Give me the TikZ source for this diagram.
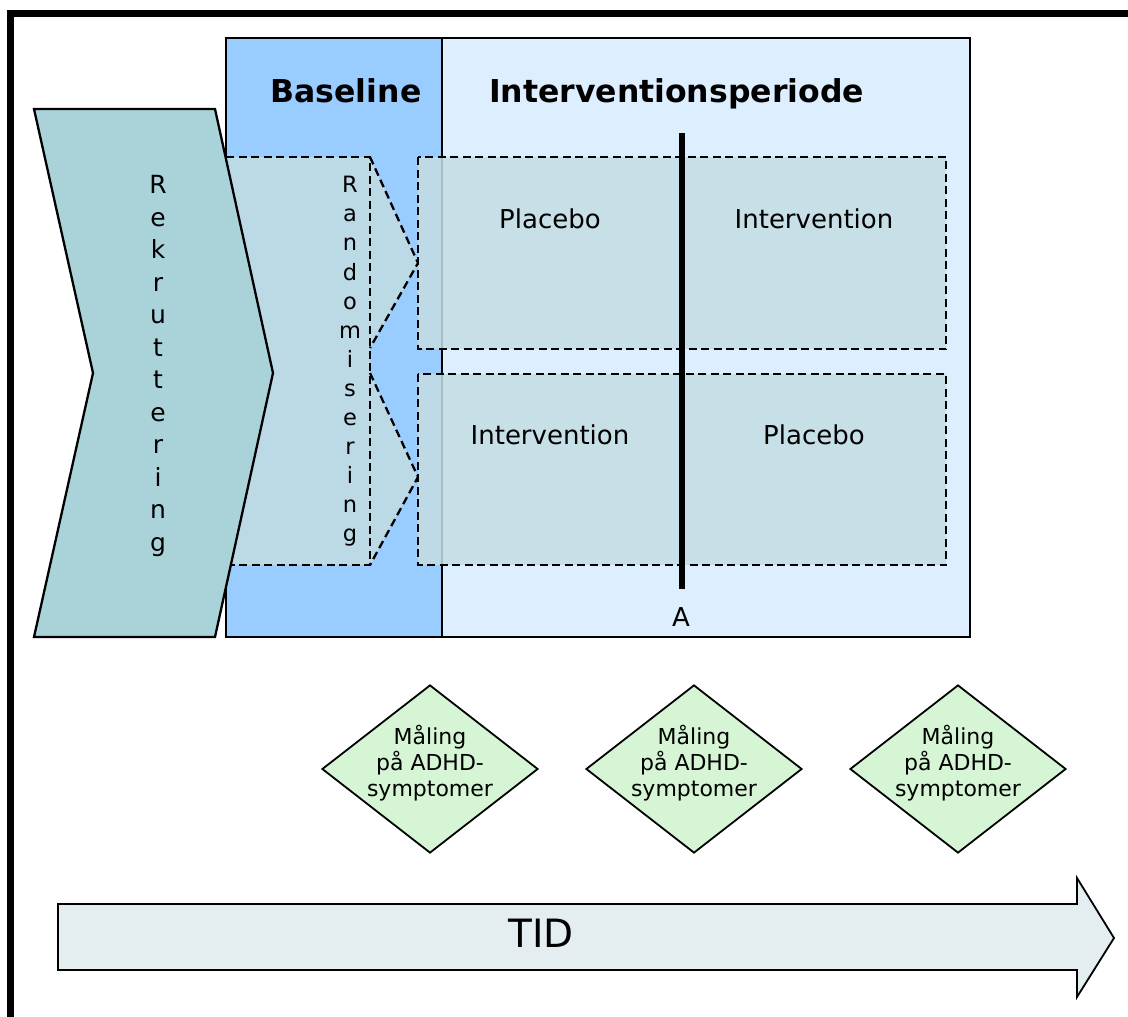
\documentclass[tikz,border=0pt]{standalone}
\usepackage{fontspec}
\setmainfont{DejaVu Sans}
\usetikzlibrary{shapes.geometric}
\definecolor{baseblue}{HTML}{99CCFF}
\definecolor{intblue}{HTML}{DDEEFF}
\definecolor{randfill}{HTML}{BCD9E6}
\definecolor{innerfill}{HTML}{C4DDE2}
\definecolor{chevfill}{HTML}{A9D3D9}
\definecolor{meafill}{HTML}{D5F5D5}
\definecolor{tidfill}{HTML}{E4EEF0}
\begin{document}
\begin{tikzpicture}[x=1pt,y=-1pt,
  frameline/.style={line width=7.5pt},
  boxline/.style={draw=black, line width=2pt},
  dashline/.style={draw=black, line width=2.3pt, dash pattern=on 8pt off 4.5pt},
  chevron/.style={draw=black, line width=2.3pt, fill=chevfill, line join=miter},
  meas/.style={diamond, draw=black, line width=1.8pt, fill=meafill, inner sep=0pt, minimum width=216pt, minimum height=168pt},
  meastext/.style={align=center, inner sep=0pt, font=\fontsize{22}{26}\selectfont},
  tidarrow/.style={draw=black, line width=1.8pt, fill=tidfill},
  head/.style={anchor=base, inner sep=0pt, font=\bfseries\fontsize{31.5}{36}\selectfont},
  lbl/.style={anchor=base, inner sep=0pt, font=\fontsize{26}{30}\selectfont},
  vert/.style={align=center, inner sep=0pt}
]
\useasboundingbox (0,0) rectangle (1128,1017);
\fill[white] (0,0) rectangle (1128,1017);
% outer frame
\draw[frameline] (10.5,1040) -- (10.5,13.5) -- (1150,13.5);
% period boxes
\draw[boxline, fill=intblue] (442,38) rectangle (970,637);
\draw[boxline, fill=baseblue] (226,38) rectangle (442,637);
% randomisering shape
\fill[randfill] (226,157) -- (370,157) -- (418,263) -- (370,348) -- (370,373) -- (418,477) -- (370,565) -- (226,565) -- cycle;
\draw[dashline] (226,157) -- (370,157) -- (370,565) -- (226,565);
\draw[dashline] (370,157) -- (418,263) -- (370,348);
\draw[dashline] (370,373) -- (418,477) -- (370,565);
% arms
\draw[dashline, fill=innerfill, fill opacity=0.85] (418,157) rectangle (946,349);
\draw[dashline, fill=innerfill, fill opacity=0.85] (418,374) rectangle (946,565);
% rekruttering chevron
\draw[chevron] (34,109) -- (215,109) -- (273,373) -- (215,637) -- (34,637) -- (93,373) -- cycle;
% crossover line
\coordinate (ltop) at (682,133);
\coordinate (lbot) at (682,589);
\draw[line width=6.5pt] (ltop) -- (lbot);
% texts
\node[head] (bl) at (346,102) {Baseline};
\node[head] (ip) at (676.5,102) {Interventionsperiode};
\node[vert, font=\fontsize{25}{32.5}\selectfont] (rek) at (158,366) {R\\e\\k\\r\\u\\t\\t\\e\\r\\i\\n\\g};
\node[vert, font=\fontsize{22.5}{29.1}\selectfont] (rand) at (350,361.5) {R\\a\\n\\d\\o\\m\\i\\s\\e\\r\\i\\n\\g};
\node[lbl] (p1) at (550,228) {Placebo};
\node[lbl] (i1) at (814,228) {Intervention};
\node[lbl] (i2) at (550,444) {Intervention};
\node[lbl] (p2) at (814,444) {Placebo};
\node[lbl] (A) at (681,626) {A};
% measurements
\node[meas] (m1) at (430,769) {};
\node[meas] (m2) at (694,769) {};
\node[meas] (m3) at (958,769) {};
\node[meastext] (t1) at (430,763) {Måling\\på ADHD-\\symptomer};
\node[meastext] (t2) at (694,763) {Måling\\på ADHD-\\symptomer};
\node[meastext] (t3) at (958,763) {Måling\\på ADHD-\\symptomer};
% time arrow
\draw[tidarrow] (58,904) -- (1077,904) -- (1077,878) -- (1114,938) -- (1077,997) -- (1077,970) -- (58,970) -- cycle;
\node[anchor=base, inner sep=0pt, font=\fontsize{39}{46}\selectfont] (tid) at (541,947) {TID};
\end{tikzpicture}
\end{document}
